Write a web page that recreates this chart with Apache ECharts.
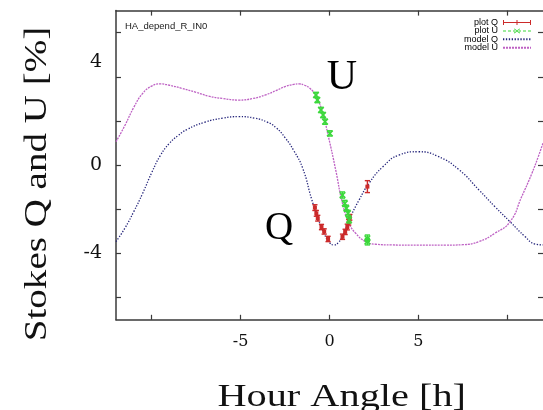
<!DOCTYPE html>
<html>
<head>
<meta charset="utf-8">
<script src="https://cdn.jsdelivr.net/npm/echarts@6/dist/echarts.min.js"></script>
<style>
  html, body { margin: 0; padding: 0; background: #fff; }
  #chart { width: 543px; height: 410px; }
</style>
</head>
<body>
<div id="chart"></div>
<script>
// Model curves (hour angle [h] -> Stokes parameter [%])
const modelQHours  = [-12, -11.5, -11, -10.5, -10, -9.5, -9, -8.5, -8, -7, -6, -5.1, -4.2, -3.5, -3, -2.5, -2, -1.5, -1, -0.62, -0.3, 0, 0.25, 0.5, 0.8, 1.1, 1.66, 2.22, 3, 3.9, 5, 6.1, 7.3, 8.4, 9.3, 10.15, 11, 11.55, 12];
const modelQValues = [-3.46, -2.85, -2.1, -1.27, -0.35, 0.45, 0.99, 1.35, 1.62, 1.95, 2.13, 2.2, 2.13, 1.95, 1.7, 1.25, 0.65, -0.15, -1.55, -2.48, -3.1, -3.5, -3.61, -3.5, -3.1, -2.48, -1.58, -0.82, -0.07, 0.46, 0.61, 0.4, -0.22, -1.12, -1.88, -2.56, -3.24, -3.57, -3.61];

const modelUHours  = [-12, -11.5, -11, -10.5, -10, -9.5, -9, -8.3, -7.5, -6.8, -6, -5.1, -4.3, -3.6, -3, -2.5, -2, -1.7, -1.4, -1.1, -0.8, -0.43, -0.06, 0.35, 0.73, 1.1, 1.47, 2.03, 2.6, 3.5, 5, 6.5, 7.5, 8.4, 9.3, 10.15, 10.8, 11.36, 11.74, 12];
const modelUValues = [1.06, 1.8, 2.62, 3.25, 3.58, 3.68, 3.62, 3.48, 3.3, 3.13, 3.02, 2.95, 3.02, 3.18, 3.38, 3.56, 3.66, 3.68, 3.62, 3.48, 3.18, 2.5, 1.29, -0.22, -1.73, -2.63, -3.08, -3.46, -3.58, -3.61, -3.62, -3.62, -3.6, -3.46, -3.08, -2.56, -1.43, -0.4, 0.4, 1.0];

// Measurements with 1-sigma errors
const plotQHours  = [-0.82, -0.74, -0.66, -0.45, -0.3, -0.08, 0.73, 0.88, 1.0, 1.08, 1.14, 2.13];
const plotQValues = [-1.92, -2.18, -2.4, -2.8, -3.0, -3.34, -3.24, -3.02, -2.8, -2.58, -2.36, -0.97];
const plotQErrors = [0.13, 0.13, 0.13, 0.12, 0.12, 0.12, 0.12, 0.12, 0.13, 0.13, 0.13, 0.27];

const plotUHours  = [-0.76, -0.68, -0.48, -0.36, -0.25, 0.02, 0.73, 0.86, 0.95, 1.04, 1.1, 2.13, 2.13];
const plotUValues = [3.18, 2.95, 2.5, 2.27, 1.97, 1.44, -1.35, -1.73, -1.95, -2.18, -2.48, -3.31, -3.46];
const plotUErrors = [0.12, 0.12, 0.12, 0.12, 0.12, 0.12, 0.14, 0.14, 0.14, 0.14, 0.14, 0.15, 0.15];

// Axis ticks and labels
const xTicks = [-10, -5, 0, 5, 10];
const xTickLabels = [-5, 0, 5];
const yTicks = [-6, -4, -2, 0, 2, 4, 6];
const yTickLabels = [-4, 0, 4];

const colQ = '#cc2a2a';
const colU = '#3cd83c';
const colModelQ = '#23237a';
const colModelU = '#be62c4';
const frameCol = '#3a3a3a';
const serif = '"DejaVu Serif", "Liberation Serif", serif';
const titleSerif = '"Liberation Serif", "DejaVu Serif", serif';
const sans = '"Liberation Sans", Arial, sans-serif';

const pairs = (xs, ys) => xs.map((x, i) => [x, ys[i]]);
const triples = (xs, ys, es) => xs.map((x, i) => [x, ys[i], es[i]]);

// Error bar with caps plus a point marker
function errorBarRenderer(color, marker) {
  return function (params, api) {
    const h = api.value(0), v = api.value(1), e = api.value(2);
    const c = api.coord([h, v]);
    const hi = api.coord([h, v + e]);
    const lo = api.coord([h, v - e]);
    const cap = 2.6;
    const st = { stroke: color, lineWidth: 1.4 };
    const children = [
      { type: 'line', shape: { x1: c[0], y1: hi[1], x2: c[0], y2: lo[1] }, style: st },
      { type: 'line', shape: { x1: c[0] - cap, y1: hi[1], x2: c[0] + cap, y2: hi[1] }, style: st },
      { type: 'line', shape: { x1: c[0] - cap, y1: lo[1], x2: c[0] + cap, y2: lo[1] }, style: st }
    ];
    if (marker === 'x') {
      const s = 2.8;
      children.push(
        { type: 'line', shape: { x1: c[0] - s, y1: c[1] - s, x2: c[0] + s, y2: c[1] + s }, style: { stroke: color, lineWidth: 1.6 } },
        { type: 'line', shape: { x1: c[0] - s, y1: c[1] + s, x2: c[0] + s, y2: c[1] - s }, style: { stroke: color, lineWidth: 1.6 } }
      );
    } else {
      children.push({ type: 'rect', shape: { x: c[0] - 2, y: c[1] - 2, width: 4, height: 4 }, style: { fill: color } });
    }
    return { type: 'group', children };
  };
}

function xAxisDef(pos, labels) {
  return {
    type: 'value', min: -12, max: 12, position: pos,
    axisLine: { show: true, onZero: false, lineStyle: { color: frameCol, width: 1.5 } },
    axisTick: { show: true, inside: true, length: 5, customValues: xTicks, lineStyle: { color: frameCol, width: 1.2 } },
    axisLabel: labels ? { customValues: xTickLabels, margin: 14, fontFamily: serif, fontSize: 16, color: '#111' } : { show: false },
    splitLine: { show: false }
  };
}

function yAxisDef(pos, labels) {
  return {
    type: 'value', min: -7, max: 7, position: pos,
    // the right-hand frame edge falls just outside the canvas; only its ticks show
    axisLine: { show: labels, onZero: false, lineStyle: { color: frameCol, width: 1.5 } },
    axisTick: { show: true, inside: true, length: 5, customValues: yTicks, lineStyle: { color: frameCol, width: 1.2 } },
    axisLabel: labels ? {
      customValues: yTickLabels, margin: 14, fontFamily: serif, fontSize: 19, color: '#111',
      formatter: v => (v === 4 ? '{up|4}' : String(v)),
      rich: { up: { fontFamily: serif, fontSize: 19, color: '#111', padding: [0, 0, 30, 0] } }
    } : { show: false },
    splitLine: { show: false }
  };
}

const chart = echarts.init(document.getElementById('chart'), null, { renderer: 'canvas' });

chart.setOption({
  backgroundColor: '#fff',
  animation: false,
  grid: { left: 116, top: 10.6, width: 428.7, height: 309.2, containLabel: false },
  xAxis: [xAxisDef('bottom', true), xAxisDef('top', false)],
  yAxis: [yAxisDef('left', true), yAxisDef('right', false)],
  legend: {
    orient: 'vertical', right: 11, top: 18, align: 'right', padding: 0,
    itemGap: -0.6, itemWidth: 28, itemHeight: 5,
    textStyle: { fontFamily: sans, fontSize: 9, color: '#000', lineHeight: 6 },
    data: [
      { name: 'plot Q', icon: 'path://M0,2h28v1h-28z M0,0h1v5h-1z M13.5,0h1v5h-1z M27,0h1v5h-1z', itemStyle: { color: colQ } },
      { name: 'plot U', icon: 'path://M0,2h3v1h-3z M5,2h3v1h-3z M10,2h2v1h-2z M16,2h2v1h-2z M20,2h3v1h-3z M25,2h3v1h-3z M11.5,0l2.5,2l2.5,-2l0.6,0.6l-2.4,1.9l2.4,1.9l-0.6,0.6l-2.5,-2l-2.5,2l-0.6,-0.6l2.4,-1.9l-2.4,-1.9z', itemStyle: { color: colU } },
      { name: 'model Q', itemStyle: { color: 'rgba(0,0,0,0)' } },
      { name: 'model U', itemStyle: { color: 'rgba(0,0,0,0)' } }
    ]
  },
  series: [
    {
      name: 'model Q', type: 'line', smooth: 0.5, symbol: 'none',
      data: pairs(modelQHours, modelQValues),
      lineStyle: { color: colModelQ, width: 1.3, type: [1.3, 1.6] },
      itemStyle: { color: colModelQ }, z: 2
    },
    {
      name: 'model U', type: 'line', smooth: 0.5, symbol: 'none',
      data: pairs(modelUHours, modelUValues),
      lineStyle: { color: colModelU, width: 1.3, type: [2, 1] },
      itemStyle: { color: colModelU }, z: 2
    },
    {
      name: 'plot Q', type: 'custom', renderItem: errorBarRenderer(colQ, 'square'),
      data: triples(plotQHours, plotQValues, plotQErrors),
      encode: { x: 0, y: 1 }, itemStyle: { color: colQ }, z: 3
    },
    {
      name: 'plot U', type: 'custom', renderItem: errorBarRenderer(colU, 'x'),
      data: triples(plotUHours, plotUValues, plotUErrors),
      encode: { x: 0, y: 1 }, itemStyle: { color: colU }, z: 4
    }
  ],
  graphic: [
    { type: 'text', x: 125, y: 26, style: { text: 'HA_depend_R_IN0', fontFamily: sans, fontSize: 9.5, fill: '#222', align: 'left', verticalAlign: 'middle' } },
    { type: 'text', x: 342, y: 78, style: { text: 'U', fontFamily: titleSerif, fontSize: 42, fill: '#000', align: 'center', verticalAlign: 'middle' } },
    { type: 'text', x: 279, y: 229, style: { text: 'Q', fontFamily: titleSerif, fontSize: 39, fill: '#000', align: 'center', verticalAlign: 'middle' } },
    { type: 'text', x: 341.7, y: 398, scaleX: 1.26, style: { text: 'Hour Angle [h]', fontFamily: titleSerif, fontSize: 32, fill: '#111', align: 'center', verticalAlign: 'middle' } },
    { type: 'text', x: 38, y: 184, rotation: Math.PI / 2, scaleX: 1.22, style: { text: 'Stokes Q and U [%]', fontFamily: titleSerif, fontSize: 32, fill: '#111', align: 'center', verticalAlign: 'middle' } }
  ]
});
</script>
</body>
</html>
